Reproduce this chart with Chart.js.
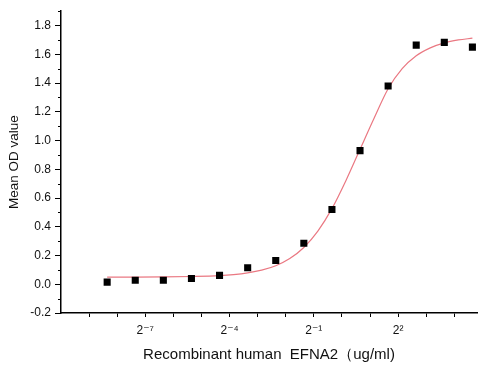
<!DOCTYPE html>
<html>
<head>
<meta charset="utf-8">
<script src="https://cdn.jsdelivr.net/npm/chart.js@4.4.1/dist/chart.umd.min.js"></script>
<style>
  html, body { margin: 0; padding: 0; background: #fff; }
</style>
</head>
<body>
<canvas id="c" width="495" height="366"></canvas>
<script>
// measured points (ug/ml, 2-fold dilution from 25)
const concentrations = [0.00305, 0.0061, 0.0122, 0.0244, 0.0488, 0.0977, 0.1953, 0.3906, 0.7813, 1.5625, 3.125, 6.25, 12.5, 25];
const meanOD = [0.015, 0.028, 0.028, 0.040, 0.062, 0.115, 0.165, 0.285, 0.520, 0.930, 1.380, 1.664, 1.683, 1.650];

// fitted curve
const fitX = [0.00305, 0.0061, 0.0122, 0.0244, 0.0488, 0.069, 0.0977, 0.138, 0.1953, 0.276, 0.3906, 0.552, 0.7813, 1.105, 1.5625, 2.21, 3.125, 4.42, 6.25, 8.84, 12.5, 17.68, 25];
const fitY = [0.050, 0.050, 0.051, 0.054, 0.060, 0.067, 0.079, 0.098, 0.129, 0.179, 0.256, 0.370, 0.526, 0.722, 0.939, 1.155, 1.360, 1.500, 1.590, 1.645, 1.680, 1.700, 1.712];

// axes
const xTickExps = [-9, -8, -7, -6, -5, -4, -3, -2, -1, 0, 1, 2, 3, 4];
const xLabelExps = [-7, -4, -1, 2];
const yMajorTicks = [-0.2, 0.0, 0.2, 0.4, 0.6, 0.8, 1.0, 1.2, 1.4, 1.6, 1.8];
const yMinorTicks = [-0.1, 0.1, 0.3, 0.5, 0.7, 0.9, 1.1, 1.3, 1.5, 1.7, 1.9];

const supMap = { '-': '\u207B', '0': '\u2070', '1': '\u00B9', '2': '\u00B2', '3': '\u00B3', '4': '\u2074',
  '5': '\u2075', '6': '\u2076', '7': '\u2077', '8': '\u2078', '9': '\u2079' };
function sup(n) {
  return String(n).split('').map(ch => supMap[ch]).join('');
}

const FONT = "'Liberation Sans', Arial, 'DejaVu Sans', sans-serif";

const minorTicks = {
  id: 'minorTicks',
  afterDraw(chart) {
    const y = chart.scales.y;
    const ctx = chart.ctx;
    ctx.save();
    ctx.strokeStyle = '#000';
    ctx.lineWidth = 1;
    ctx.beginPath();
    yMinorTicks.forEach(v => {
      const py = Math.round(y.getPixelForValue(v)) + 0.5;
      ctx.moveTo(y.right - 3, py);
      ctx.lineTo(y.right, py);
    });
    ctx.stroke();
    ctx.restore();
  }
};

new Chart(document.getElementById('c'), {
  type: 'scatter',
  data: {
    datasets: [{
      label: 'data',
      data: concentrations.map((c, i) => ({ x: c, y: meanOD[i] })),
      pointStyle: 'rect',
      pointRadius: 5,
      backgroundColor: '#000',
      borderColor: '#000',
      borderWidth: 0,
      showLine: false,
      order: 0
    }, {
      label: 'fit',
      data: fitX.map((c, i) => ({ x: c, y: fitY[i] })),
      showLine: true,
      pointRadius: 0,
      borderColor: 'rgb(234,120,130)',
      borderWidth: 1.2,
      cubicInterpolationMode: 'monotone',
      fill: false,
      order: 1
    }]
  },
  options: {
    responsive: false,
    animation: false,
    devicePixelRatio: 1,
    layout: { padding: { top: 8, right: 18, left: 0, bottom: 0 } },
    plugins: { legend: { display: false }, tooltip: { enabled: false } },
    scales: {
      x: {
        type: 'logarithmic',
        min: Math.pow(2, -10),
        max: 28,
        afterBuildTicks: s => { s.ticks = xTickExps.map(e => ({ value: Math.pow(2, e) })); },
        afterFit: s => { s.height = 53; },
        ticks: {
          autoSkip: false,
          maxRotation: 0,
          padding: 6,
          color: '#111',
          font: { family: FONT, size: 12 },
          callback: v => {
            const e = Math.round(Math.log2(v));
            return xLabelExps.includes(e) ? '2' + sup(e) : '';
          }
        },
        grid: { drawOnChartArea: false, drawTicks: true, tickLength: 4, tickColor: '#000', tickWidth: 1 },
        border: { color: '#000', width: 1.5 },
        title: {
          display: true,
          text: 'Recombinant human  EFNA2\uFF08ug/ml)',
          color: '#111',
          font: { family: FONT, size: 15 },
          padding: { top: 4, bottom: 2 }
        }
      },
      y: {
        min: -0.2,
        max: 1.9,
        afterBuildTicks: s => { s.ticks = yMajorTicks.map(v => ({ value: v })); },
        afterFit: s => { s.width = 61; },
        ticks: {
          padding: 4,
          color: '#111',
          font: { family: FONT, size: 12 },
          callback: v => v.toFixed(1)
        },
        grid: { drawOnChartArea: false, drawTicks: true, tickLength: 6, tickColor: '#000', tickWidth: 1 },
        border: { color: '#000', width: 1.5 },
        title: {
          display: true,
          text: 'Mean OD value',
          color: '#111',
          font: { family: FONT, size: 13.5 },
          padding: { top: 6, bottom: 4 }
        }
      }
    }
  },
  plugins: [minorTicks]
});
</script>
</body>
</html>
